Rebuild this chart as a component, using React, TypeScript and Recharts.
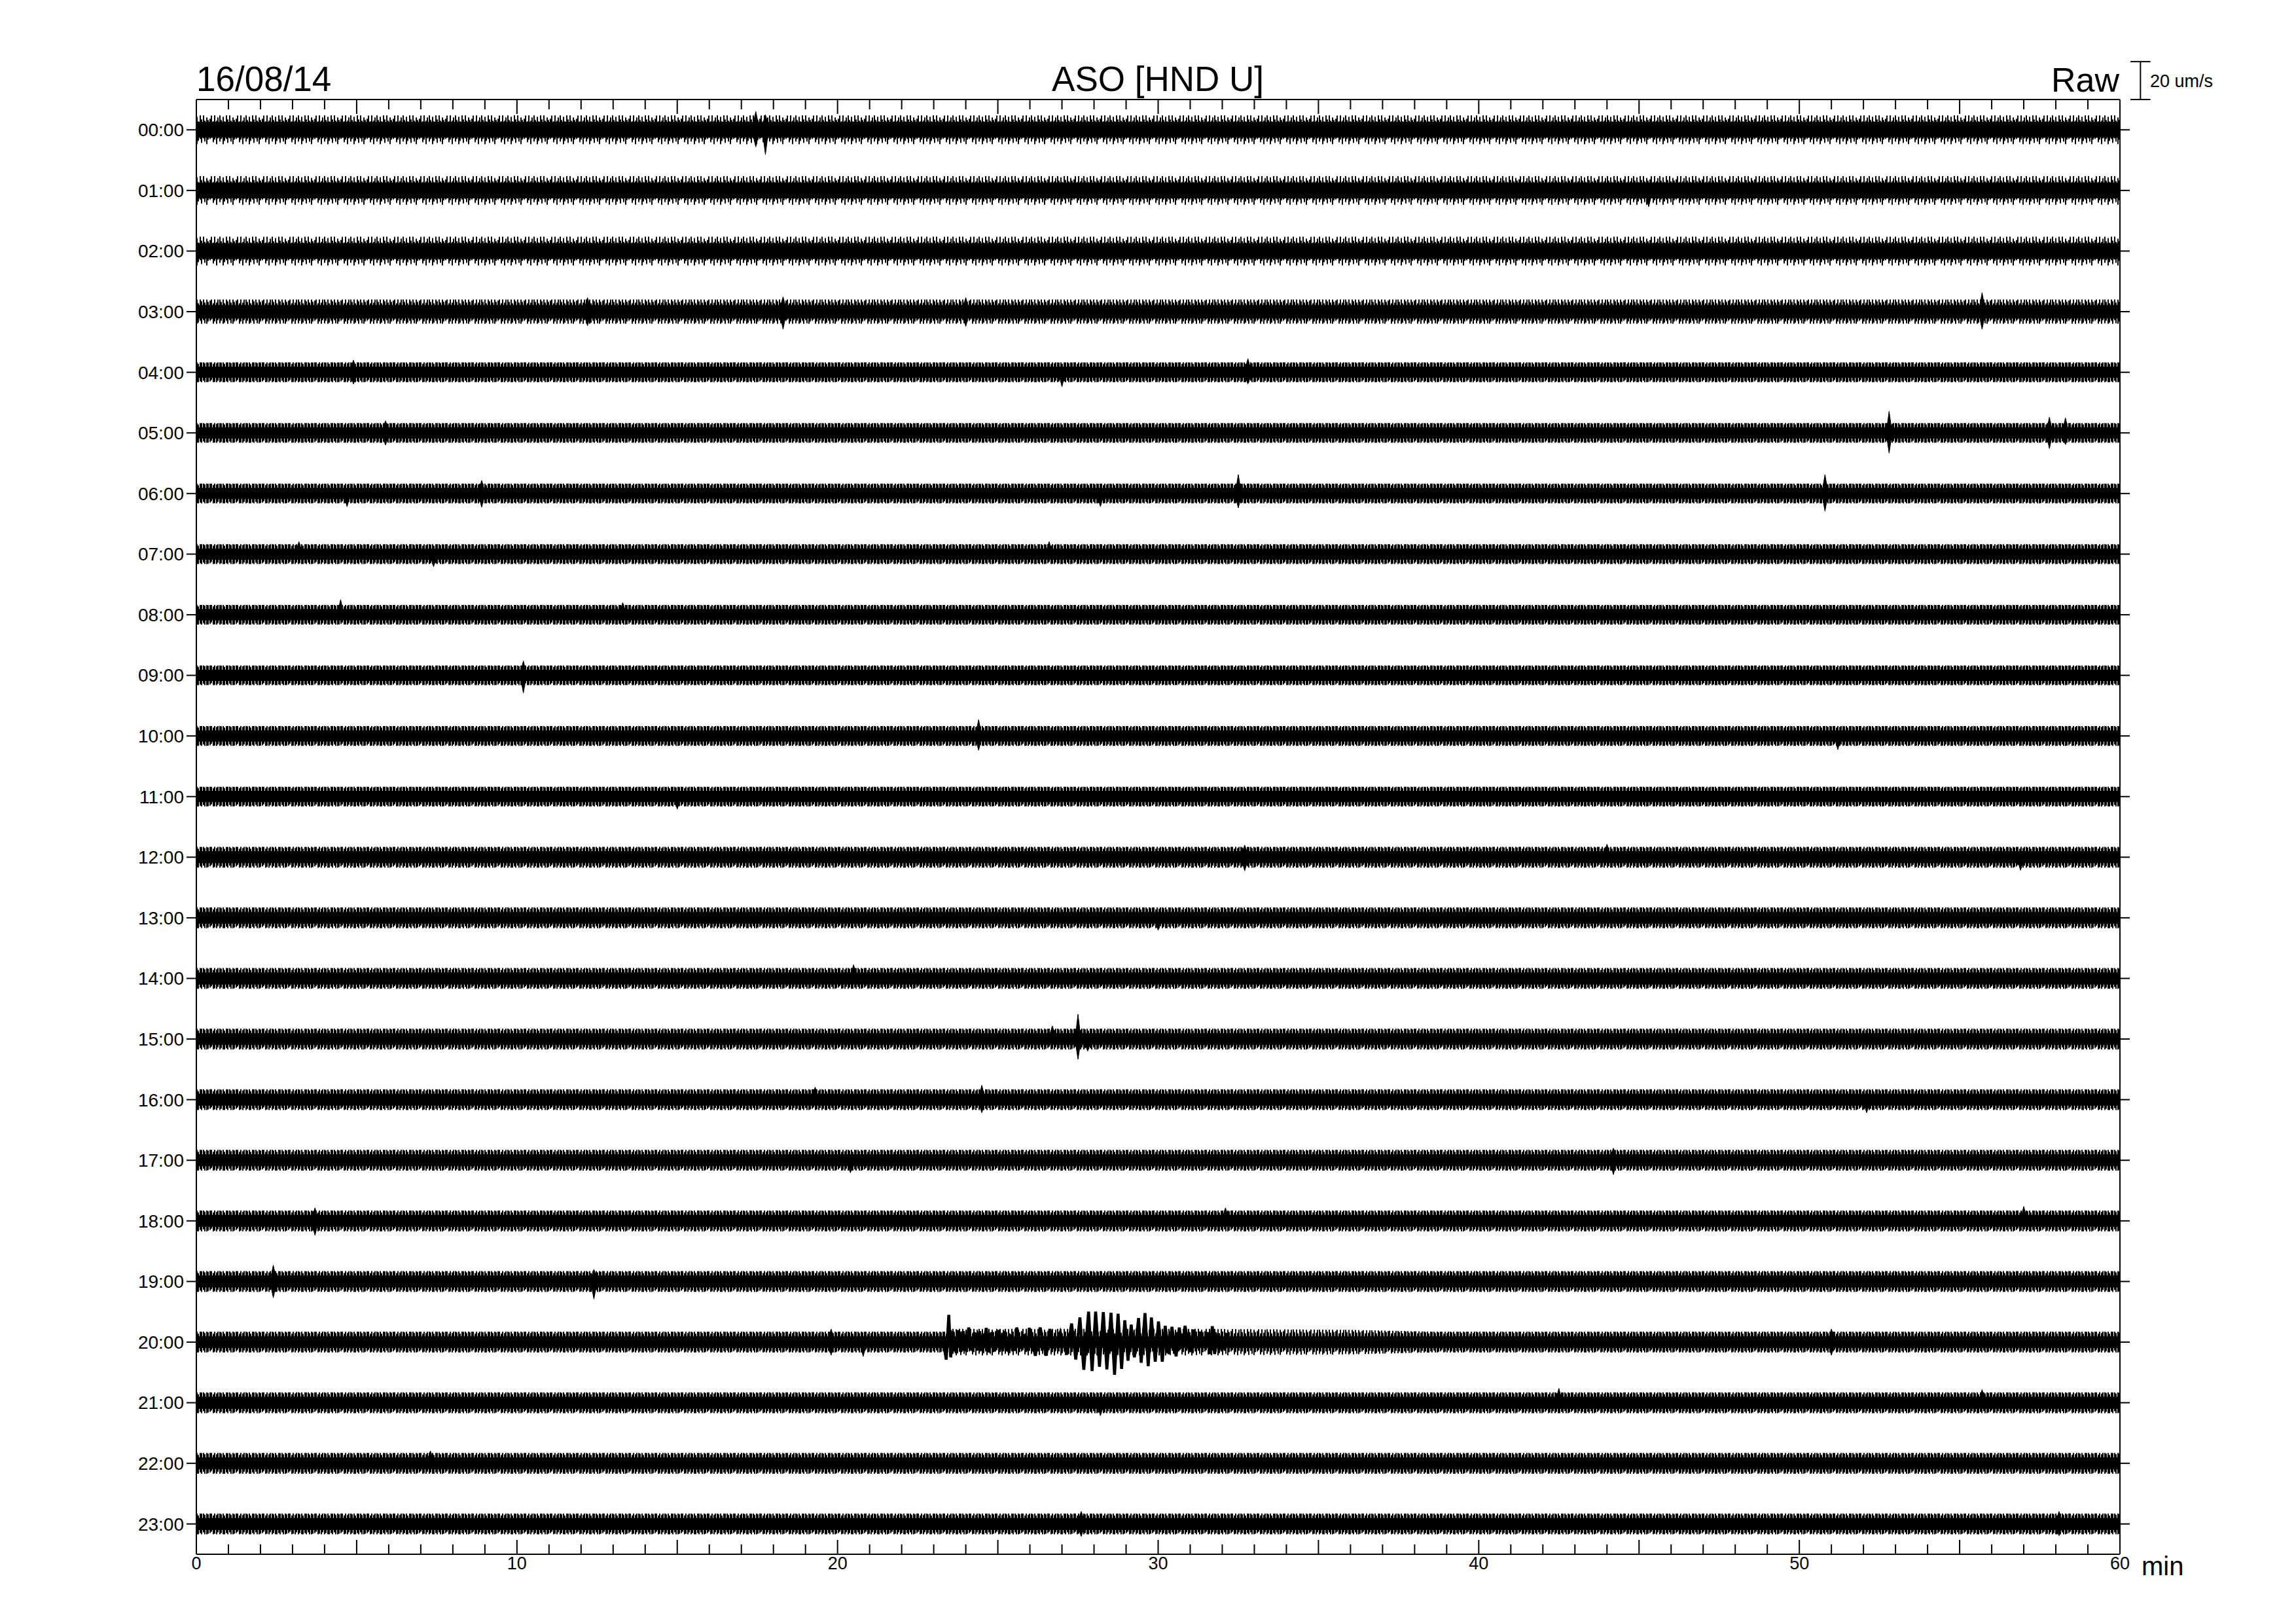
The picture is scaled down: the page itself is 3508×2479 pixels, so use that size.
import React from 'react';
import { ComposedChart, Area, Line, XAxis, YAxis, ReferenceLine } from 'recharts';

// ---------- data read from the helicorder ----------
const HOURS = ['00:00', '01:00', '02:00', '03:00', '04:00', '05:00', '06:00', '07:00', '08:00', '09:00', '10:00', '11:00',
  '12:00', '13:00', '14:00', '15:00', '16:00', '17:00', '18:00', '19:00', '20:00', '21:00', '22:00', '23:00'];
const X_LABELS = ['0', '10', '20', '30', '40', '50', '60'];
const MINUTE_TICKS = [0, 1, 2, 3, 4, 5, 6, 7, 8, 9, 10, 11, 12, 13, 14, 15, 16, 17, 18, 19, 20, 21, 22, 23, 24, 25, 26, 27, 28, 29, 30,
  31, 32, 33, 34, 35, 36, 37, 38, 39, 40, 41, 42, 43, 44, 45, 46, 47, 48, 49, 50, 51, 52, 53, 54, 55, 56, 57, 58, 59, 60];

const ROW_STEP = 32; // um/s between successive hourly traces
const SCALE_BAR = 20; // um/s

// half-width of the solid noise core of each trace (um/s)
const CORE = [4.0, 4.0, 4.0, 3.4, 2.8, 2.8, 2.8, 2.8, 2.8, 2.8, 2.8, 2.8,
  3.0, 3.0, 3.0, 3.0, 3.0, 3.0, 3.0, 3.0, 3.0, 3.0, 3.0, 3.0];
// half-width reached by the ordinary noise spikes of each trace (um/s)
const OUTER = [7.6, 7.6, 7.6, 6.4, 5.2, 5.2, 5.2, 5.2, 5.2, 5.2, 5.2, 5.2,
  5.5, 5.5, 5.5, 5.5, 5.5, 5.5, 5.5, 5.5, 5.5, 5.5, 5.5, 5.5];

// small events per trace: [minute, peak up (um/s), peak down (um/s)], 0 = no excursion on that side
const EVENTS: number[][][] = [
  [[17.45, 9.7, 9.0], [17.75, 8.0, 13.1]],
  [[45.3, 0, 8.6]],
  [],
  [[12.2, 7.4, 7.4], [18.3, 7.8, 9.3], [24.0, 7.4, 7.8], [55.7, 10.0, 9.3]],
  [[4.9, 6.4, 6.2], [27.0, 0, 7.6], [32.8, 7.2, 6.2]],
  [[5.9, 6.4, 6.4], [52.8, 11.4, 10.7], [57.8, 8.3, 8.3], [58.3, 7.9, 6.2]],
  [[4.7, 0, 6.9], [8.9, 6.9, 7.2], [28.2, 0, 6.9], [32.5, 10.0, 7.6], [50.8, 10.0, 9.3]],
  [[3.2, 6.6, 0], [7.4, 0, 6.6], [26.6, 6.6, 0]],
  [[4.5, 8.0, 0], [13.3, 6.4, 0]],
  [[10.2, 7.6, 9.3]],
  [[24.4, 8.6, 7.6], [51.2, 0, 7.2]],
  [[15.0, 0, 6.6]],
  [[32.7, 6.4, 7.2], [44.0, 6.9, 0], [56.9, 0, 6.9]],
  [[30.0, 0, 6.6]],
  [[20.5, 7.2, 0]],
  [[26.7, 6.9, 0], [27.5, 13.1, 10.7], [27.8, 0, 6.4]],
  [[19.3, 6.6, 0], [24.5, 7.6, 6.9], [52.1, 0, 6.9]],
  [[20.4, 0, 6.6], [44.2, 6.4, 7.6]],
  [[3.7, 6.9, 7.6], [32.1, 6.9, 0], [57.0, 7.6, 0]],
  [[2.4, 8.6, 8.6], [12.4, 6.4, 9.3]],
  [[19.8, 6.9, 6.9], [20.8, 0, 7.6], [51.0, 6.9, 6.9]],
  [[28.2, 0, 6.9], [42.5, 7.6, 0], [55.7, 6.9, 0]],
  [[7.3, 6.6, 0]],
  [[27.6, 6.6, 6.6], [58.1, 6.6, 6.2]],
];

// the 20:00 wave train, successive peaks and troughs
const QUAKE_ROW = 20;
const QUAKE_T = [23.30, 23.39, 23.47, 23.53, 23.59, 23.70, 23.75, 23.85, 23.92, 24.02, 24.09, 24.19, 24.26, 24.36, 24.43,
  24.53, 24.64, 24.70, 24.81, 24.87, 25.04, 25.15, 25.21, 25.35, 25.42, 25.52, 25.59, 25.72, 25.79, 25.93, 25.98,
  26.17, 26.32, 26.51, 26.62, 26.78, 26.95, 27.15, 27.30, 27.43, 27.56, 27.68, 27.83, 27.94, 28.05, 28.17, 28.29,
  28.40, 28.53, 28.64, 28.75, 28.86, 28.96, 29.06, 29.16, 29.26, 29.39, 29.47, 29.59, 29.69, 29.79, 29.91, 30.01,
  30.13, 30.22, 30.34, 30.43, 30.56, 30.66, 30.75, 30.84, 30.98, 31.10, 31.18, 31.31, 31.41, 31.54, 31.61, 31.69,
  31.76, 31.88, 31.99, 32.12, 32.19];
const QUAKE_V = [0, -9.2, 14.4, -8.05, 5.75, -5.75, 6.3, -5.2, 5.75, -4.9, 7.7, -4.6, 5.2, -4.3, 5.75,
  -4.6, 7.5, -5.4, 5.2, -4.9, 6.3, -4.9, 5.75, -5.4, 4.0, -4.6, 7.7, -3.45, 4.0, -4.6, 7.5,
  -7.2, 7.7, -7.2, 6.9, -3.45, 5.2, -6.6, 9.8, -9.2, 13.0, -14.6, 16.1, -15.3, 16.1, -13.0, 15.8,
  -14.4, 15.5, -17.25, 15.0, -14.1, 11.5, -9.8, 9.2, -8.05, 12.65, -10.9, 15.3, -12.65, 13.0, -10.35, 10.9,
  -10.35, 8.6, -6.3, 8.05, -7.5, 7.7, -3.45, 8.6, -5.2, 6.6, -3.45, 5.4, -2.3, 5.2, -6.3, 8.4,
  -6.3, 4.6, -4.6, 4.6, 0];
// envelope of the coda that follows the wave train (minute, half-width um/s)
const CODA_T = [23.4, 31.5, 36.0, 38.5];
const CODA_A = [7.0, 7.0, 6.5, 5.5];

// ---------- tables for the library ----------
type BandPt = { t: number; band: [number, number] };

function buildBand(row: number, base: number, events: number[][], w: number): BandPt[] {
  const c = -row * ROW_STEP;
  const pts: BandPt[] = [{ t: 0, band: [c - base, c + base] }];
  events.slice().sort((a, b) => a[0] - b[0]).forEach(([t, up, dn]) => {
    const hi = Math.max(base, up);
    const lo = Math.max(base, dn);
    pts.push({ t: t - w, band: [c - base, c + base] });
    pts.push({ t, band: [c - lo, c + hi] });
    pts.push({ t: t + w, band: [c - base, c + base] });
  });
  pts.push({ t: 60, band: [c - base, c + base] });
  return pts;
}

const outerBands = HOURS.map((_, r) => buildBand(r, OUTER[r], [], 0));
const coreBands = HOURS.map((_, r) => buildBand(r, CORE[r], EVENTS[r], 0.07));
const codaBand = CODA_T.map((t, i) => ({
  t, band: [-QUAKE_ROW * ROW_STEP - CODA_A[i], -QUAKE_ROW * ROW_STEP + CODA_A[i]] as [number, number],
}));
const quakeData = QUAKE_T.map((t, i) => ({ t, y: -QUAKE_ROW * ROW_STEP + QUAKE_V[i] }));
const ROW_TICKS = HOURS.map((_, r) => -r * ROW_STEP);
const Y_DOMAIN: [number, number] = [-(HOURS.length - 0.5) * ROW_STEP, 0.5 * ROW_STEP];

// ---------- layout / style ----------
const FONT = '"Liberation Sans", Arial, Helvetica, sans-serif';
const W = 3508;
const H = 2479;
const M = { top: 132, right: 229, bottom: 45, left: 200 };
const TOP_AXIS_H = 20;
const PLOT_TOP = M.top + TOP_AXIS_H;
const PLOT_H = H - M.bottom - 60 - PLOT_TOP;
const ROW_PX = PLOT_H / HOURS.length;
// texture strokes for the fuzzy edge of the noise band: [x, up, down] in px inside one tile
const TEXTURE = [[1, 17, 14], [3, 22, 12], [6, 13, 19], [8, 25, 15], [11, 14, 23], [13, 19, 13], [16, 27, 18], [18, 15, 14],
  [21, 20, 25], [23, 13, 17], [26, 23, 14], [28, 16, 20], [31, 25, 13], [33, 14, 18], [36, 19, 26], [38, 15, 15]];

const BottomTick = (props: any) => {
  const { x, y, payload } = props;
  const v = payload.value as number;
  const len = v % 5 === 0 ? 22 : 15;
  return (
    <g>
      <line x1={x} y1={y} x2={x} y2={y - len} stroke="#000" strokeWidth={2} />
      {v % 10 === 0 ? (
        <text x={x} y={y + 23} textAnchor="middle" fontSize={27} fontFamily={FONT} fill="#000">
          {X_LABELS[v / 10]}
        </text>
      ) : null}
    </g>
  );
};

const TopTick = (props: any) => {
  const { x, y, payload } = props;
  const v = payload.value as number;
  const len = v % 5 === 0 ? 22 : 15;
  return <line x1={x} y1={y} x2={x} y2={y + len} stroke="#000" strokeWidth={2} />;
};

const EmptyTick = () => <g />;

export default function App() {
  const barX = 60.64;
  const y0 = Y_DOMAIN[1];
  const mid = ROW_PX / 2;
  return (
    <div style={{ position: 'absolute', left: 0, top: 0, width: W, height: H, background: '#fff' }}>
      <svg width={0} height={0} style={{ position: 'absolute', left: 0, top: 0 }}>
        <defs>
          <pattern id="noiseEdge" patternUnits="userSpaceOnUse" x={0} y={PLOT_TOP} width={40} height={ROW_PX}>
            {TEXTURE.map(([x, up, dn], i) => (
              <line key={i} x1={x} x2={x} y1={mid - up} y2={mid + dn} stroke="#000" strokeWidth={2} />
            ))}
          </pattern>
        </defs>
      </svg>
      <ComposedChart width={W} height={H} margin={M}>
        <XAxis xAxisId="b" type="number" dataKey="t" domain={[0, 60]} allowDataOverflow ticks={MINUTE_TICKS}
          interval={0} tickSize={0} tickMargin={0} tick={<BottomTick />} tickLine={false} height={60}
          axisLine={{ stroke: '#000', strokeWidth: 2 }} />
        <XAxis xAxisId="t" orientation="top" type="number" dataKey="t" domain={[0, 60]} allowDataOverflow ticks={MINUTE_TICKS}
          interval={0} tickSize={0} tickMargin={0} tick={<TopTick />} tickLine={false} height={TOP_AXIS_H}
          axisLine={{ stroke: '#000', strokeWidth: 2 }} />
        <YAxis yAxisId="l" type="number" domain={Y_DOMAIN} allowDataOverflow ticks={ROW_TICKS} interval={0} width={100}
          tickSize={15} tickMargin={4} tickFormatter={(v: number) => HOURS[Math.round(-v / ROW_STEP)]}
          tick={{ fill: '#000', fontSize: 28, fontFamily: FONT }} tickLine={{ stroke: '#000', strokeWidth: 2 }}
          axisLine={{ stroke: '#000', strokeWidth: 2 }} />
        <YAxis yAxisId="r" orientation="right" type="number" domain={Y_DOMAIN} allowDataOverflow ticks={ROW_TICKS} interval={0}
          width={40} tickSize={15} tick={<EmptyTick />} tickLine={{ stroke: '#000', strokeWidth: 2 }}
          axisLine={{ stroke: '#000', strokeWidth: 2 }} />
        {outerBands.map((d, r) => (
          <Area key={'o' + r} xAxisId="b" yAxisId="l" data={d} dataKey="band" type="linear" stroke="none"
            fill="url(#noiseEdge)" fillOpacity={1} isAnimationActive={false} dot={false} activeDot={false} />
        ))}
        <Area xAxisId="b" yAxisId="l" data={codaBand} dataKey="band" type="linear" stroke="none"
          fill="url(#noiseEdge)" fillOpacity={1} isAnimationActive={false} dot={false} activeDot={false} />
        {coreBands.map((d, r) => (
          <Area key={'i' + r} xAxisId="b" yAxisId="l" data={d} dataKey="band" type="linear" stroke="#000" strokeWidth={1}
            fill="#000" fillOpacity={1} isAnimationActive={false} dot={false} activeDot={false} />
        ))}
        <Line xAxisId="b" yAxisId="l" data={quakeData} dataKey="y" type="linear" stroke="#000" strokeWidth={4.5}
          dot={false} activeDot={false} isAnimationActive={false} />
        <ReferenceLine xAxisId="b" yAxisId="l" ifOverflow="visible" stroke="#000" strokeWidth={2}
          segment={[{ x: barX, y: y0 }, { x: barX, y: y0 + SCALE_BAR }]} />
        <ReferenceLine xAxisId="b" yAxisId="l" ifOverflow="visible" stroke="#000" strokeWidth={2}
          segment={[{ x: barX - 0.31, y: y0 }, { x: barX + 0.31, y: y0 }]} />
        <ReferenceLine xAxisId="b" yAxisId="l" ifOverflow="visible" stroke="#000" strokeWidth={2}
          segment={[{ x: barX - 0.31, y: y0 + SCALE_BAR }, { x: barX + 0.31, y: y0 + SCALE_BAR }]} />
      </ComposedChart>
      <svg width={W} height={H} style={{ position: 'absolute', left: 0, top: 0, pointerEvents: 'none' }}>
        <g fontFamily={FONT} fill="#000">
          <text x={300} y={139} fontSize={53}>16/08/14</text>
          <text x={1769} y={139} fontSize={53} textAnchor="middle">ASO [HND U]</text>
          <text x={3238} y={140} fontSize={52} textAnchor="end">Raw</text>
          <text x={3285} y={133} fontSize={27}>{SCALE_BAR} um/s</text>
          <text x={3272} y={2406} fontSize={40}>min</text>
        </g>
      </svg>
    </div>
  );
}
